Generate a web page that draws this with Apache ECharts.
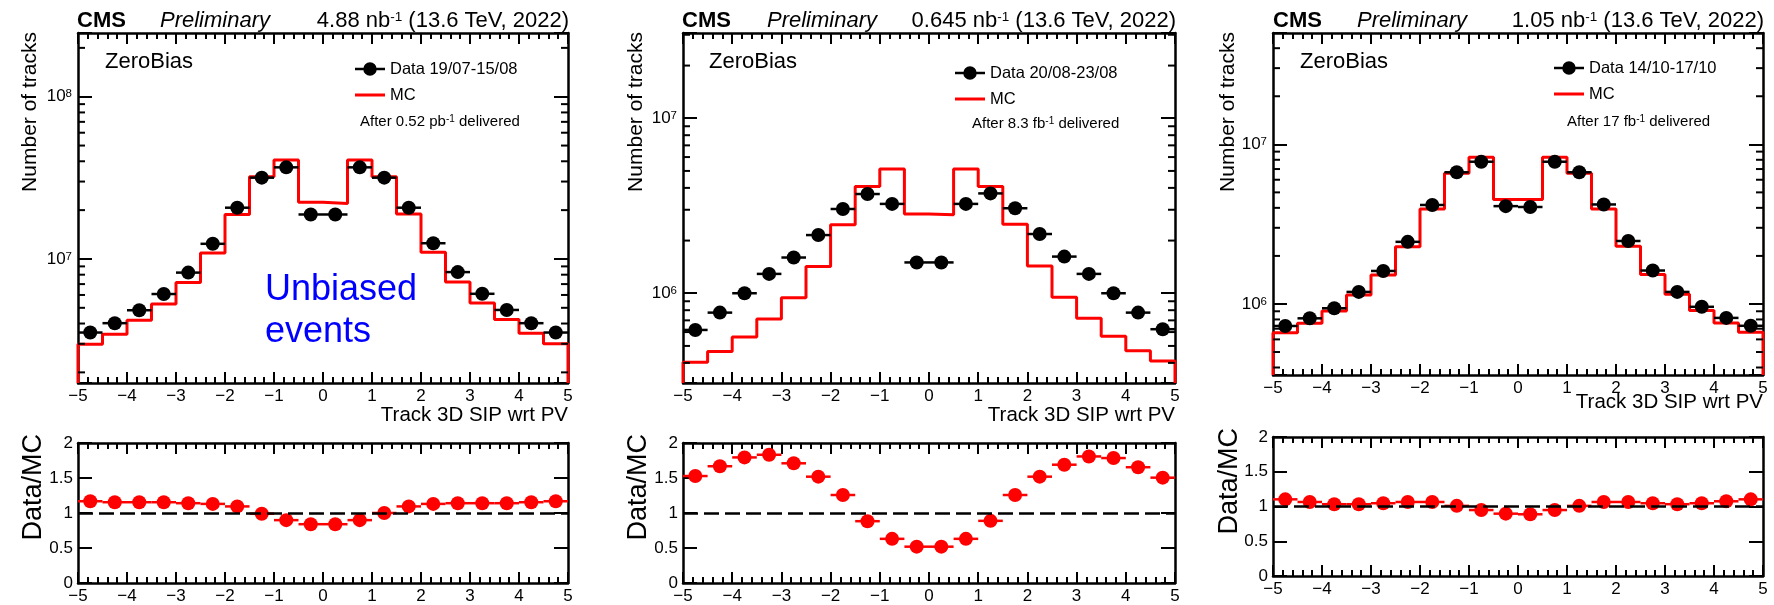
<!DOCTYPE html>
<html><head><meta charset="utf-8">
<script src="https://cdn.jsdelivr.net/npm/echarts@6/dist/echarts.min.js"></script>
<style>html,body{margin:0;padding:0;background:#fff}#c{width:1774px;height:605px}</style>
</head><body><div id="c"></div>
<script>
// ---------------- data ----------------
const binCenters = [-4.75,-4.25,-3.75,-3.25,-2.75,-2.25,-1.75,-1.25,-0.75,-0.25,0.25,0.75,1.25,1.75,2.25,2.75,3.25,3.75,4.25,4.75];
const binEdges = [-5,-4.5,-4,-3.5,-3,-2.5,-2,-1.5,-1,-0.5,0,0.5,1,1.5,2,2.5,3,3.5,4,4.5,5];
const binHalfWidth = 0.25;
const xTickValues = [-5,-4,-3,-2,-1,0,1,2,3,4,5];
const ratioTickLabels = ['0','0.5','1','1.5','2'];
const logMinorMantissas = [2,3,4,5,6,7,8,9];
const logDecades = [1e5,1e6,1e7,1e8];

const data1 = [3.52e6,4.02e6,4.83e6,6.08e6,8.24e6,1.24e7,2.07e7,3.17e7,3.67e7,1.88e7,1.88e7,3.67e7,3.17e7,2.07e7,1.25e7,8.3e6,6.1e6,4.85e6,4.02e6,3.52e6];
const mc1   = [2.98e6,3.43e6,4.19e6,5.28e6,7.15e6,1.09e7,1.88e7,3.21e7,4.07e7,2.24e7,2.2e7,4.07e7,3.21e7,1.89e7,1.1e7,7.2e6,5.35e6,4.24e6,3.48e6,3.0e6];
const ratio1 = [1.168,1.154,1.154,1.154,1.14,1.13,1.094,0.99,0.898,0.84,0.84,0.898,1.0,1.094,1.13,1.14,1.14,1.14,1.154,1.168];

const data2 = [6.17e5,7.75e5,1.0e6,1.29e6,1.6e6,2.15e6,3.03e6,3.69e6,3.24e6,1.5e6,1.5e6,3.24e6,3.72e6,3.06e6,2.18e6,1.62e6,1.29e6,1.0e6,7.75e5,6.23e5];
const mc2   = [4.03e5,4.64e5,5.62e5,7.13e5,9.44e5,1.42e6,2.46e6,4.07e6,5.13e6,2.84e6,2.81e6,5.13e6,4.07e6,2.48e6,1.43e6,9.5e5,7.2e5,5.67e5,4.7e5,4.1e5];
const ratio2 = [1.528,1.668,1.794,1.832,1.71,1.519,1.257,0.883,0.631,0.519,0.519,0.631,0.888,1.257,1.519,1.69,1.808,1.785,1.654,1.505];

const data3 = [7.28e5,8.13e5,9.4e5,1.19e6,1.61e6,2.45e6,4.17e6,6.68e6,7.78e6,4.1e6,4.05e6,7.78e6,6.68e6,4.2e6,2.48e6,1.62e6,1.19e6,9.6e5,8.18e5,7.3e5];
const mc3   = [6.61e5,7.57e5,9.04e5,1.14e6,1.52e6,2.28e6,3.93e6,6.58e6,8.29e6,4.51e6,4.51e6,8.29e6,6.58e6,3.93e6,2.3e6,1.53e6,1.15e6,9.1e5,7.6e5,6.64e5];
const ratio3 = [1.103,1.065,1.033,1.033,1.047,1.065,1.065,1.009,0.949,0.897,0.888,0.949,1.009,1.065,1.065,1.047,1.033,1.047,1.075,1.103];

const dataNames = ['Data 19/07-15/08','Data 20/08-23/08','Data 14/10-17/10'];
const lumiTexts = ['4.88','0.645','1.05'];
const afterLumi = ['0.52 pb','8.3 fb','17 fb'];
const yRanges = [[1.72e6,2.47e8],[3.07e5,3.07e7],[3.59e5,4.98e7]];

// ---------------- layout ----------------
const FONT = '"Liberation Sans", Arial, Helvetica, sans-serif';
const layout = [
  {main:{left:78,top:33,width:490,height:350}, ratio:{left:78,top:443,width:490,height:140},
   legLeft:355, legTop:60, afterX:360, afterY:122, ytX:30, rtX:34, xtY:415, cmsX:77, preX:160, zbX:105},
  {main:{left:683,top:33,width:492,height:350}, ratio:{left:683,top:443,width:492,height:140},
   legLeft:955, legTop:64, afterX:972, afterY:124, ytX:636, rtX:639, xtY:415, cmsX:682, preX:767, zbX:709},
  {main:{left:1273,top:33,width:490,height:342}, ratio:{left:1273,top:437,width:490,height:139},
   legLeft:1554, legTop:59, afterX:1567, afterY:122, ytX:1228, rtX:1230, xtY:402, cmsX:1273, preX:1357, zbX:1300}
];
const panels = [
  {data:data1, mc:mc1, ratio:ratio1},
  {data:data2, mc:mc2, ratio:ratio2},
  {data:data3, mc:mc3, ratio:ratio3}
];

const grids = [], xAxes = [], yAxes = [], series = [], legends = [], graphics = [];
const black = '#000';
const red = '#ff0000';
const FRAME_W = 2.5, TICK_W = 2;

function minusify(v){ return String(v).replace('-', '\u2212'); }

function addXAxes(g, showLabels){
  const base = {
    type:'value', gridIndex:g, min:-5, max:5, interval:1,
    axisLine:{show:true, onZero:false, lineStyle:{color:black, width:FRAME_W}},
    axisTick:{show:true, inside:true, length:11, lineStyle:{color:black, width:TICK_W}},
    minorTick:{show:true, splitNumber:5, length:6, lineStyle:{color:black, width:TICK_W}},
    splitLine:{show:false}, minorSplitLine:{show:false}
  };
  xAxes.push(Object.assign({}, base, {position:'bottom',
    axisLabel:{show:showLabels, color:black, fontSize:17, fontFamily:FONT, margin:5,
      formatter: v => xTickValues.indexOf(v) >= 0 ? minusify(v) : ''}}));
  xAxes.push(Object.assign({}, base, {position:'top', axisLabel:{show:false}}));
}

function addLogYAxes(g, range){
  const base = {
    type:'log', logBase:10, gridIndex:g, min:range[0], max:range[1],
    axisLine:{show:true, onZero:false, lineStyle:{color:black, width:FRAME_W}},
    axisTick:{show:true, inside:true, length:14, lineStyle:{color:black, width:TICK_W}},
    splitLine:{show:false}
  };
  yAxes.push(Object.assign({}, base, {position:'left',
    axisLabel:{show:true, color:black, fontSize:17, fontFamily:FONT, margin:6,
      formatter: v => { const e = Math.log10(v); const r = Math.round(e);
        return Math.abs(e - r) < 1e-6 ? '10{s|' + r + '}' : ''; },
      rich:{s:{fontSize:11.5, fontFamily:FONT, color:black, verticalAlign:'top'}}}}));
  yAxes.push(Object.assign({}, base, {position:'right', axisLabel:{show:false}}));
}

function addRatioYAxes(g){
  const base = {
    type:'value', gridIndex:g, min:0, max:2, interval:0.5,
    axisLine:{show:true, onZero:false, lineStyle:{color:black, width:FRAME_W}},
    axisTick:{show:true, inside:true, length:14, lineStyle:{color:black, width:TICK_W}},
    splitLine:{show:false}
  };
  yAxes.push(Object.assign({}, base, {position:'left',
    axisLabel:{show:true, color:black, fontSize:17, fontFamily:FONT, margin:5,
      formatter: v => ratioTickLabels[Math.round(v / 0.5)] || ''}}));
  yAxes.push(Object.assign({}, base, {position:'right', axisLabel:{show:false}}));
}

function xErrSeries(ax, pts, color){
  return {
    type:'custom', xAxisIndex:ax, yAxisIndex:ax, silent:true, z:3, data:pts,
    renderItem:(params, api) => {
      const c = api.value(0), v = api.value(1);
      const a = api.coord([c - binHalfWidth, v]), b = api.coord([c + binHalfWidth, v]);
      return {type:'line', shape:{x1:a[0], y1:a[1], x2:b[0], y2:b[1]}, style:{stroke:color, lineWidth:2.5}};
    }
  };
}

const DATA_ICON = 'path://M0,5.5L30,5.5L30,8L0,8Z M21.75,6.75A6.75,6.75,0,1,1,8.25,6.75A6.75,6.75,0,1,1,21.75,6.75Z';
const MC_ICON = 'path://M0,0L30,0L30,3L0,3Z';

panels.forEach((p, i) => {
  const L = layout[i];
  const gm = 2*i, gr = 2*i + 1;
  grids.push(Object.assign({containLabel:false}, L.main));
  grids.push(Object.assign({containLabel:false}, L.ratio));
  addXAxes(gm, true);
  addXAxes(gr, true);
  addLogYAxes(gm, yRanges[i]);
  addRatioYAxes(gr);
  const axM = 2*gm, axR = 2*gr;

  // MC histogram outline
  const yMin = yRanges[i][0];
  const mcSteps = [[binEdges[0], yMin]];
  p.mc.forEach((v, k) => mcSteps.push([binEdges[k], v]));
  mcSteps.push([binEdges[binEdges.length - 1], p.mc[p.mc.length - 1]]);
  mcSteps.push([binEdges[binEdges.length - 1], yMin]);
  series.push({type:'line', name:'MC', xAxisIndex:axM, yAxisIndex:axM, step:'end', symbol:'none',
    data:mcSteps, lineStyle:{color:red, width:3}, itemStyle:{color:red}, z:2, silent:true});

  // data points
  const pts = binCenters.map((c, k) => [c, p.data[k]]);
  series.push(xErrSeries(axM, pts, black));
  series.push({type:'scatter', name:dataNames[i], xAxisIndex:axM, yAxisIndex:axM, data:pts,
    symbol:'circle', symbolSize:14, itemStyle:{color:black, opacity:1}, z:4, silent:true});

  // log minor ticks (left and right frame)
  const minor = [];
  logDecades.forEach(d => logMinorMantissas.forEach(m => {
    const v = d*m; if (v > yRanges[i][0] && v < yRanges[i][1]) minor.push([0, v]);
  }));
  series.push({type:'custom', xAxisIndex:axM, yAxisIndex:axM, silent:true, z:5, data:minor,
    renderItem:(params, api) => {
      const v = api.value(1);
      const pl = api.coord([-5, v]), pr = api.coord([5, v]);
      return {type:'group', children:[
        {type:'line', shape:{x1:pl[0], y1:pl[1], x2:pl[0] + 7, y2:pl[1]}, style:{stroke:black, lineWidth:TICK_W}},
        {type:'line', shape:{x1:pr[0] - 7, y1:pr[1], x2:pr[0], y2:pr[1]}, style:{stroke:black, lineWidth:TICK_W}}
      ]};
    }});

  // ratio
  const rpts = binCenters.map((c, k) => [c, p.ratio[k]]);
  const rErr = xErrSeries(axR, rpts, red);
  rErr.markLine = {silent:true, symbol:'none', label:{show:false}, animation:false,
    lineStyle:{color:black, type:[15,6], width:2.5}, data:[{yAxis:1}]};
  series.push(rErr);
  series.push({type:'scatter', name:'ratio' + i, xAxisIndex:axR, yAxisIndex:axR, data:rpts,
    symbol:'circle', symbolSize:14, itemStyle:{color:red, opacity:1}, z:4, silent:true});

  legends.push({orient:'vertical', left:L.legLeft, top:L.legTop, itemWidth:30, itemHeight:13.5, itemGap:8,
    selectedMode:false, padding:0,
    textStyle:{fontSize:16.5, color:black, fontFamily:FONT, lineHeight:18},
    data:[{name:dataNames[i], icon:DATA_ICON, itemStyle:{color:black}},
          {name:'MC', icon:MC_ICON, itemStyle:{color:red}}]});

  // texts
  const topY = 21;
  graphics.push({type:'text', x:L.cmsX, y:topY, silent:true,
    style:{text:'CMS', fontSize:22, fontWeight:'bold', fontFamily:FONT, fill:black, align:'left', verticalAlign:'middle'}});
  graphics.push({type:'text', x:L.preX, y:topY, silent:true,
    style:{text:'Preliminary', fontSize:22, fontStyle:'italic', fontFamily:FONT, fill:black, align:'left', verticalAlign:'middle'}});
  graphics.push({type:'text', x:L.main.left + L.main.width + 1, y:topY, silent:true,
    style:{text:lumiTexts[i] + ' nb{s|-1} (13.6 TeV, 2022)', fontSize:22, fontFamily:FONT, fill:black, align:'right', verticalAlign:'middle',
      rich:{s:{fontSize:13.5, fontFamily:FONT, fill:black, verticalAlign:'top'}}}});
  graphics.push({type:'text', x:L.zbX, y:62, silent:true,
    style:{text:'ZeroBias', fontSize:22, fontFamily:FONT, fill:black, align:'left', verticalAlign:'middle'}});
  graphics.push({type:'text', x:L.afterX, y:L.afterY, silent:true,
    style:{text:'After ' + afterLumi[i] + '{s|-1} delivered', fontSize:15, fontFamily:FONT, fill:black, align:'left', verticalAlign:'middle',
      rich:{s:{fontSize:10, fontFamily:FONT, fill:black, verticalAlign:'top'}}}});
  graphics.push({type:'text', x:L.ytX, y:L.main.top - 1, rotation:Math.PI/2, silent:true,
    style:{text:'Number of tracks', fontSize:21, fontFamily:FONT, fill:black, align:'right', verticalAlign:'middle'}});
  graphics.push({type:'text', x:L.rtX, y:L.ratio.top - 9, rotation:Math.PI/2, silent:true,
    style:{text:'Data/MC', fontSize:27, fontFamily:FONT, fill:black, align:'right', verticalAlign:'middle'}});
  graphics.push({type:'text', x:L.main.left + L.main.width, y:L.xtY, silent:true,
    style:{text:'Track 3D SIP wrt PV', fontSize:20.5, fontFamily:FONT, fill:black, align:'right', verticalAlign:'middle'}});
});

graphics.push({type:'text', x:265, y:290, silent:true,
  style:{text:'Unbiased', fontSize:36, fontFamily:FONT, fill:'#0000ff', align:'left', verticalAlign:'middle'}});
graphics.push({type:'text', x:265, y:332, silent:true,
  style:{text:'events', fontSize:36, fontFamily:FONT, fill:'#0000ff', align:'left', verticalAlign:'middle'}});

const chart = echarts.init(document.getElementById('c'), null, {renderer:'canvas'});
chart.setOption({
  animation:false,
  backgroundColor:'#fff',
  grid:grids, xAxis:xAxes, yAxis:yAxes, series:series, legend:legends,
  graphic:{elements:graphics}
});
</script></body></html>
